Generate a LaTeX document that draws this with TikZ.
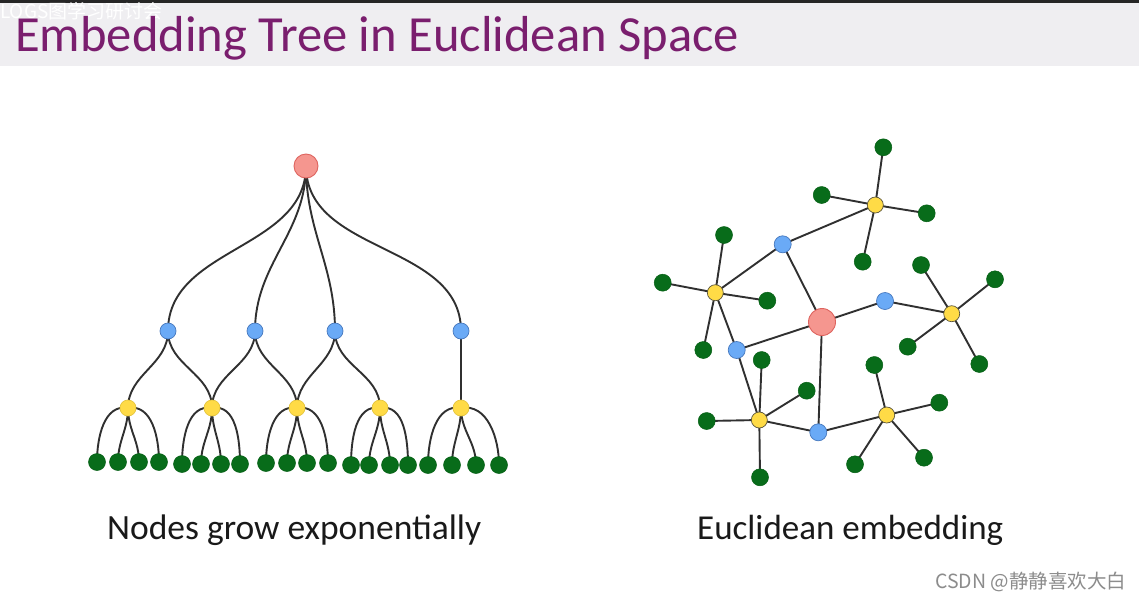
\documentclass[tikz,border=0pt]{standalone}
\usepackage{fontspec}
\setmainfont{Carlito}
\newfontfamily\cjkf{Noto Sans CJK SC}
\definecolor{titlepurple}{RGB}{122,30,110}
\definecolor{barbg}{RGB}{239,238,241}
\definecolor{rootfill}{RGB}{245,150,143}
\definecolor{rootdraw}{RGB}{222,100,95}
\definecolor{bluefill}{RGB}{106,170,246}
\definecolor{bluedraw}{RGB}{70,120,190}
\definecolor{yelfill}{RGB}{255,219,70}
\definecolor{yeldraw}{RGB}{90,85,60}
\definecolor{grnfill}{RGB}{8,108,26}
\definecolor{grndraw}{RGB}{5,95,20}
\definecolor{edgec}{RGB}{48,48,48}
\pgfdeclarelayer{back}\pgfdeclarelayer{bg}\pgfsetlayers{back,bg,main}
\tikzset{
  rootn/.style={circle,inner sep=0pt,fill=rootfill,draw=rootdraw,line width=0.9pt},
  bluen/.style={circle,inner sep=0pt,minimum size=16pt,fill=bluefill,draw=bluedraw,line width=0.7pt},
  yeln/.style={circle,inner sep=0pt,minimum size=16pt,fill=yelfill,draw=yeldraw,line width=0.7pt},
  yelt/.style={yeln,draw=yelfill!90!black},
  grnn/.style={circle,inner sep=0pt,minimum size=17pt,fill=grnfill,draw=grndraw,line width=0.5pt},
  edge/.style={draw=edgec,line width=1.9pt},
}
\begin{document}
\begin{tikzpicture}[x=1pt,y=-1pt]
\useasboundingbox (0,0) rectangle (1139,600);
\begin{pgfonlayer}{back}
\fill[white] (0,0) rectangle (1139,600);
\fill[barbg] (0,0) rectangle (1139,66);
\fill[black!85] (0,0) rectangle (1139,2.5);
\end{pgfonlayer}
\node[anchor=base west,inner sep=0pt,text=white,font=\cjkf\fontsize{19}{22}\selectfont] (wm) at (0,18.5) {LOGS图学习研讨会};
\node[anchor=base west,inner sep=0pt,text=titlepurple,font=\fontsize{50.6}{60}\selectfont] (title) at (15,51) {Embedding Tree in Euclidean Space};

% ===== Left tree =====
\node[rootn,minimum size=24pt] (r) at (306,166) {};
\foreach \n/\x in {1/168,2/255,3/335,4/461} \node[bluen] (b\n) at (\x,331) {};
\foreach \n/\x in {1/128,2/212,3/297,4/380,5/461} \node[yelt] (y\n) at (\x,408) {};
\foreach \n/\x/\y in {1/97/462,2/118/462,3/139/462,4/159/462,
                      5/182/464,6/201/464,7/221/464,8/240/464,
                      9/266/463,10/287/463,11/307/463,12/328/463,
                      13/351/465,14/369/465,15/390/465,16/408/465,
                      17/428/465,18/452/465,19/476/465,20/499/465}
  \node[grnn] (l\n) at (\x,\y) {};
\begin{pgfonlayer}{bg}
\foreach \b in {1,2,3,4} \draw[edge] (r.center) to[out=-90,in=90] (b\b.center);
\foreach \b/\y in {1/1,1/2,2/2,2/3,3/3,3/4} \draw[edge] (b\b.center) to[out=-90,in=90] (y\y.center);
\draw[edge] (b4.center) -- (y5.center);
\foreach \y/\a/\b/\c/\d in {1/1/2/3/4,2/5/6/7/8,3/9/10/11/12,4/13/14/15/16,5/17/18/19/20}{
  \draw[edge] (y\y.center) to[out=170,in=90] (l\a.center);
  \draw[edge] (y\y.center) to[out=-90,in=90] (l\b.center);
  \draw[edge] (y\y.center) to[out=-90,in=90] (l\c.center);
  \draw[edge] (y\y.center) to[out=10,in=90] (l\d.center);
}
\end{pgfonlayer}

% ===== Right graph =====
\node[rootn,minimum size=27pt] (R) at (822,322) {};
\node[bluen,minimum size=17pt] (B1) at (782.7,244.3) {};
\node[bluen,minimum size=17pt] (B2) at (885,301) {};
\node[bluen,minimum size=17pt] (B3) at (736.7,350) {};
\node[bluen,minimum size=17pt] (B4) at (818.3,432.3) {};
\node[yeln] (YA) at (875.3,205) {};
\node[yeln] (YB) at (715.3,292.7) {};
\node[yeln] (YC) at (951.7,313.7) {};
\node[yeln] (YD) at (759.3,420) {};
\node[yeln] (YE) at (886.7,415) {};
\node[grnn] (GA1) at (883.3,147.3) {};
\node[grnn] (GA2) at (821.7,195) {};
\node[grnn] (GA3) at (926.7,213.3) {};
\node[grnn] (GA4) at (862.7,261.7) {};
\node[grnn] (GB1) at (724,235) {};
\node[grnn] (GB2) at (662.7,282.7) {};
\node[grnn] (GB3) at (767.3,300.7) {};
\node[grnn] (GB4) at (703.3,350) {};
\node[grnn] (GC1) at (921,265) {};
\node[grnn] (GC2) at (995,279.3) {};
\node[grnn] (GC3) at (907.7,346.7) {};
\node[grnn] (GC4) at (979.3,364) {};
\node[grnn] (GD1) at (761.7,360) {};
\node[grnn] (GD2) at (806.7,390.7) {};
\node[grnn] (GD3) at (706.7,421) {};
\node[grnn] (GD4) at (760,477.3) {};
\node[grnn] (GE1) at (874.3,365) {};
\node[grnn] (GE2) at (939.3,402.7) {};
\node[grnn] (GE3) at (855,464.3) {};
\node[grnn] (GE4) at (924,457.7) {};
\begin{pgfonlayer}{bg}
\foreach \a/\b in {R/B1,R/B2,R/B3,R/B4,B1/YA,B1/YB,B2/YC,B3/YB,B3/YD,B4/YD,B4/YE}
  \draw[edge] (\a.center) -- (\b.center);
\foreach \y in {A,B,C,D,E}
  \foreach \k in {1,2,3,4}
    \draw[edge] (Y\y.center) -- (G\y\k.center);
\end{pgfonlayer}

% labels
\node[anchor=base west,inner sep=0pt,font=\fontsize{35.5}{40}\selectfont,text=black!90] (lab1) at (107,539) {Nodes grow exponentially};
\node[anchor=base west,inner sep=0pt,font=\fontsize{35}{40}\selectfont,text=black!90] (lab2) at (697,539) {Euclidean embedding};
\node[anchor=base west,inner sep=0pt,font=\cjkf\fontsize{19.5}{22}\selectfont,text=black!45] (csdn) at (935,588) {CSDN @静静喜欢大白};
\end{tikzpicture}
\end{document}
